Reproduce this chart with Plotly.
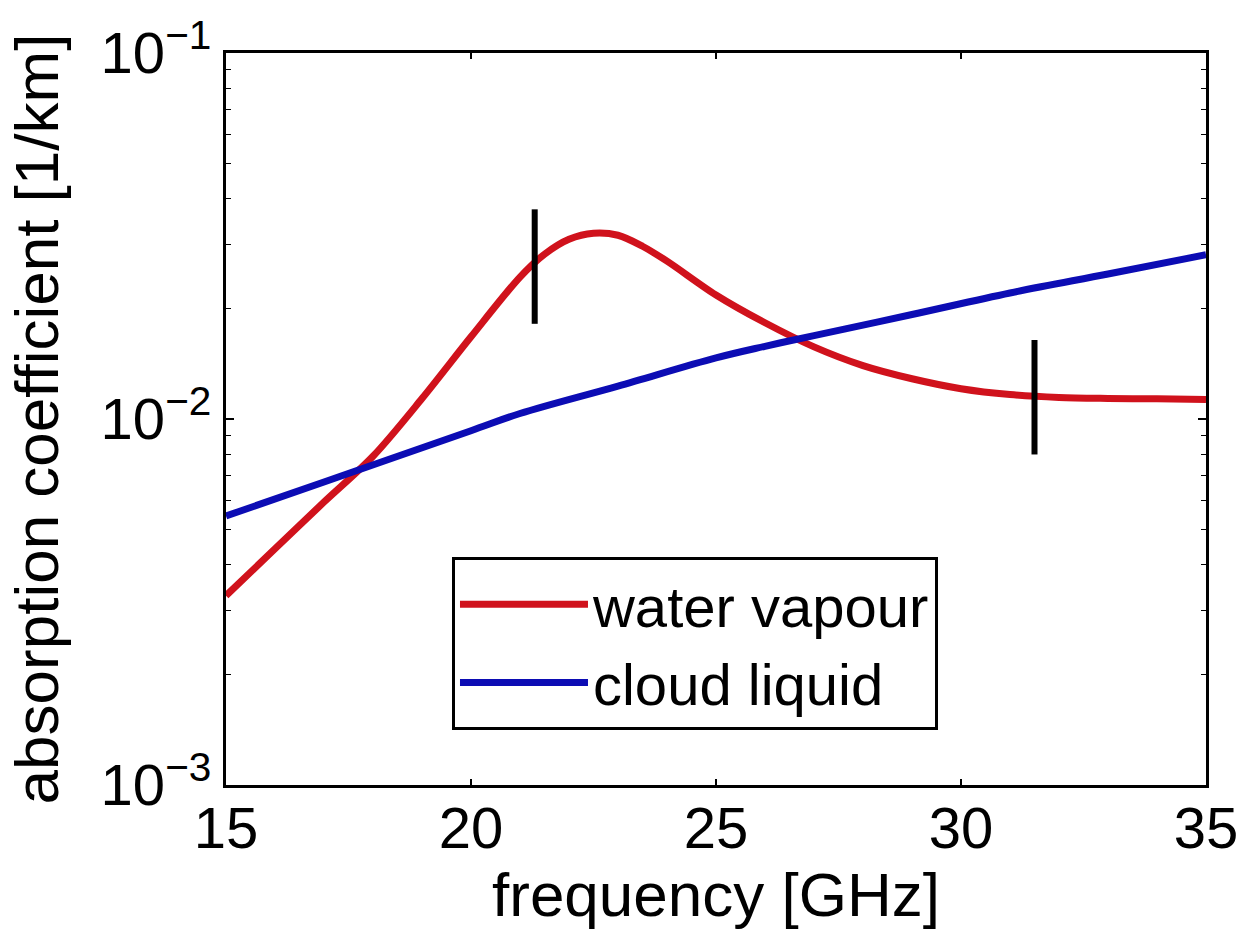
import plotly.graph_objects as go

# --- data ---
freq_wv = [15, 16, 17, 18, 19, 20, 21, 21.5, 22, 22.5, 23, 23.5, 24, 25, 26, 27, 28, 29, 30, 31, 32, 33, 34, 35]
water_vapour = [0.00329, 0.00442, 0.00593, 0.00791, 0.01137, 0.01677, 0.02442, 0.02820, 0.03098, 0.03218,
                0.03177, 0.02965, 0.02700, 0.02182, 0.01832, 0.01574, 0.01399, 0.01288, 0.01210, 0.01166,
                0.01145, 0.01138, 0.01135, 0.01130]

freq_cl = [15, 17, 20, 21, 23, 25, 26, 27, 29, 31, 33, 35]
cloud_liquid = [0.00543, 0.00673, 0.00929, 0.01035, 0.01230, 0.01469, 0.0158, 0.0169, 0.0193, 0.0221, 0.0249, 0.0281]

channel_freqs = [21.3, 31.5]
channel_low = [0.0182, 0.0080]
channel_high = [0.0374, 0.01644]

x_ticks = [15, 20, 25, 30, 35]
y_ticks = [0.001, 0.01, 0.1]
y_ticktext = ["10<sup>\u22123</sup>", "10<sup>\u22122</sup>", "10<sup>\u22121</sup>"]

FONT = "Liberation Sans, Arial, Helvetica, sans-serif"
RED = "#d0121c"
BLUE = "#0c0cb4"

fig = go.Figure()
fig.add_trace(go.Scatter(x=freq_wv, y=water_vapour, mode="lines", name="water vapour",
                         line=dict(color=RED, width=7, shape="spline", smoothing=0.9)))
fig.add_trace(go.Scatter(x=freq_cl, y=cloud_liquid, mode="lines", name="cloud liquid",
                         line=dict(color=BLUE, width=7, shape="spline", smoothing=1.0)))
for f, lo, hi in zip(channel_freqs, channel_low, channel_high):
    fig.add_trace(go.Scatter(x=[f, f], y=[lo, hi], mode="lines", showlegend=False,
                             line=dict(color="black", width=6), hoverinfo="skip"))

fig.update_layout(
    width=1260, height=930,
    margin=dict(l=226, r=54, t=50, b=145),
    paper_bgcolor="white", plot_bgcolor="white",
    font=dict(family=FONT, size=60, color="black"),
    showlegend=True,
    legend=dict(x=0.2306, y=0.3115, xanchor="left", yanchor="top",
                bordercolor="black", borderwidth=3, bgcolor="white",
                font=dict(family=FONT, size=58, color="black"),
                itemwidth=128, tracegroupgap=0),
)
fig.update_xaxes(
    range=[15, 35], tickmode="array", tickvals=x_ticks,
    ticks="inside", ticklen=6, tickwidth=2, tickcolor="black",
    showline=True, linecolor="black", linewidth=3, mirror="ticks",
    showgrid=False, zeroline=False,
    ticklabelstandoff=-10,
    tickfont=dict(family=FONT, size=58, color="black"),
    title=dict(text="frequency [GHz]", font=dict(family=FONT, size=62, color="black"), standoff=6),
)
fig.update_yaxes(
    type="log", range=[-3, -1], tickmode="array", tickvals=y_ticks, ticktext=y_ticktext,
    ticks="inside", ticklen=8, tickwidth=2, tickcolor="black",
    minor=dict(ticks="inside", ticklen=5, tickwidth=1, tickcolor="black", dtick="D1"),
    showline=True, linecolor="black", linewidth=3, mirror="ticks",
    showgrid=False, zeroline=False,
    tickfont=dict(family=FONT, size=58, color="black"),
    title=dict(text="absorption coefficient [1/km]", font=dict(family=FONT, size=62, color="black"), standoff=22),
)

fig.write_html("out.html")
